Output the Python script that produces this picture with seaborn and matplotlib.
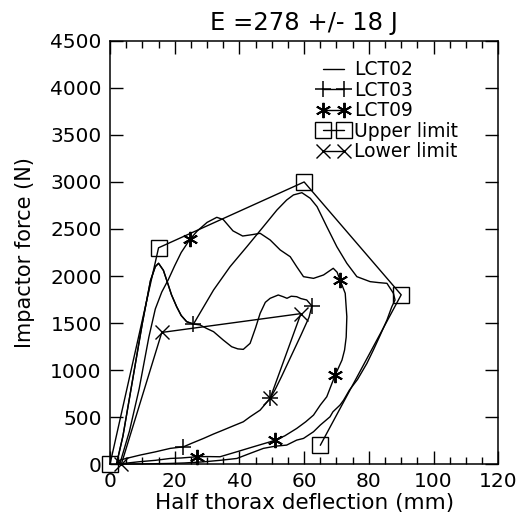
import numpy as np
import matplotlib
matplotlib.use("Agg")
import matplotlib.pyplot as plt
from matplotlib.lines import Line2D
from matplotlib.ticker import MultipleLocator
import seaborn as sns

# Half thorax deflection (mm) / impactor force (N)
lct02_x = [2, 4, 7, 10, 12.5, 14, 15, 16.5, 17.5, 19, 20.6, 22, 23.7, 25.8, 32, 37.1, 42.3,
           47.4, 51.6, 54.6, 56.7, 59.3, 61.9, 64, 67, 70.1, 73.2, 76.3, 80.4, 83, 85.6, 87.6,
           88.1, 87.1, 85.6, 83.5, 81.4, 79.4, 76.5, 74, 72.2, 71.1, 68.9, 68, 65, 62.9, 59.8,
           57.7, 54.6, 51, 47.4, 43, 39.2, 34, 28.9, 23, 18.6, 12, 6, 2]
lct02_y = [0, 300, 900, 1500, 1950, 2100, 2135, 2060, 1957, 1800, 1673, 1580, 1514, 1489, 1851,
           2099, 2312, 2525, 2702, 2808, 2862, 2886, 2826, 2737, 2525, 2312, 2135, 1993, 1940,
           1930, 1922, 1816, 1745, 1673, 1532, 1370, 1213, 1071, 900, 787, 680, 628, 556, 503,
           415, 344, 273, 255, 202, 190, 167, 110, 60, 40, 24, 12, 7, 3, 0, 0]

lct03_x = [2, 4, 7, 10, 12.5, 14, 15, 16.5, 17.5, 19, 20.6, 22, 23.7, 25.8, 27.8, 30, 32, 35,
           37.6, 39.5, 41.2, 43.3, 45, 46.4, 48, 49.5, 52, 53.5, 54.7, 56, 57.7, 59, 60.8, 62.4,
           61.5, 59, 56, 53, 51, 49.5, 46.4, 43.3, 41.2, 38, 35, 32, 28.9, 25.5, 22.7, 18.6, 14,
           9.3, 5, 3.1, 2]
lct03_y = [0, 300, 900, 1500, 1950, 2100, 2135, 2060, 1957, 1800, 1673, 1580, 1514, 1489, 1480,
           1440, 1408, 1319, 1248, 1225, 1220, 1284, 1450, 1603, 1720, 1763, 1798, 1780, 1763,
           1785, 1780, 1760, 1745, 1681, 1560, 1370, 1150, 930, 790, 700, 574, 503, 450, 405,
           362, 320, 273, 225, 184, 167, 130, 96, 60, 43, 0]

lct09_x = [3, 6, 9, 12, 14, 16, 18, 20, 22, 24.7, 27, 30, 33, 35, 38, 41, 44, 46.4, 49.5, 52.6,
           55.7, 57.7, 59.8, 62.9, 66, 69, 70.2, 71.1, 72.7, 73.2, 73, 72.5, 71.7, 69.6, 67, 65,
           62.9, 60.5, 57.7, 54, 51, 49.5, 44.3, 39.2, 34, 30, 26.8, 22, 18.6, 14, 9, 5, 3]
lct09_y = [0, 350, 800, 1350, 1650, 1830, 1960, 2110, 2250, 2390, 2480, 2570, 2624, 2600, 2480,
           2425, 2440, 2454, 2383, 2277, 2205, 2099, 1993, 1975, 2011, 2082, 2040, 1957, 1816,
           1567, 1350, 1213, 1106, 947, 716, 628, 521, 450, 379, 300, 255, 237, 184, 131, 78,
           80, 78, 65, 60, 40, 25, 10, 0]

upper_x = [0, 15, 60, 90, 65]
upper_y = [0, 2300, 3000, 1800, 200]
lower_x = [3.5, 16, 59, 49.5]
lower_y = [0, 1400, 1600, 700]

labels = ["LCT02", "LCT03", "LCT09", "Upper limit", "Lower limit"]

sns.set_style("ticks")
plt.rcParams["font.family"] = ["DejaVu Sans"]
plt.rcParams["text.color"] = "black"
plt.rcParams["axes.labelcolor"] = "black"
plt.rcParams["xtick.color"] = "black"
plt.rcParams["ytick.color"] = "black"

fig = plt.figure(figsize=(5.19, 5.31), dpi=100)
ax = fig.add_axes([0.212, 0.126, 0.748, 0.797])

lw = 1.0
common = dict(color="black", linewidth=lw, sort=False, estimator=None, ax=ax,
              markeredgecolor="black", clip_on=False)

sns.lineplot(x=lct02_x, y=lct02_y, **common)
sns.lineplot(x=lct03_x, y=lct03_y, marker="+", markersize=11, markeredgewidth=1.1,
             markevery=[13, 33, 39, 48], **common)
star = (6, 2, 0)
sns.lineplot(x=lct09_x, y=lct09_y, marker=star, markersize=11, markeredgewidth=1.4,
             markevery=[9, 27, 33, 40, 46], **common)
sns.lineplot(x=upper_x, y=upper_y, marker="s", markersize=11, markerfacecolor="none",
             markeredgewidth=1.0, **common)
sns.lineplot(x=lower_x, y=lower_y, marker="x", markersize=10, markeredgewidth=1.0, **common)

ax.set_xlim(0, 120)
ax.set_ylim(0, 4500)
ax.xaxis.set_major_locator(MultipleLocator(20))
ax.xaxis.set_minor_locator(MultipleLocator(5))
ax.yaxis.set_major_locator(MultipleLocator(500))
ax.tick_params(which="both", direction="in", top=True, right=True, color="black", width=1.0)
ax.tick_params(which="major", length=9.5, labelsize=14.5, pad=6)
ax.tick_params(which="minor", length=5)
for s in ax.spines.values():
    s.set_linewidth(1.1)
    s.set_color("black")

ax.set_title("E =278 +/- 18 J", fontsize=17.5, pad=8)
ax.set_xlabel("Half thorax deflection (mm)", fontsize=15.5, labelpad=1)
ax.set_ylabel("Impactor force (N)", fontsize=15, labelpad=11)

handles = [
    Line2D([], [], color="black", linewidth=lw),
    Line2D([], [], color="black", linewidth=lw, marker="+", markersize=11, markeredgewidth=1.1),
    Line2D([], [], color="black", linewidth=lw, marker=star, markersize=11, markeredgewidth=1.4),
    Line2D([], [], color="black", linewidth=lw, marker="s", markersize=11,
           markerfacecolor="none", markeredgewidth=1.0),
    Line2D([], [], color="black", linewidth=lw, marker="x", markersize=10, markeredgewidth=1.0),
]
ax.legend(handles, labels, loc="upper left", bbox_to_anchor=(0.50, 0.985), frameon=False,
          numpoints=2, fontsize=13.5, handlelength=1.7, handletextpad=0.25,
          labelspacing=0.08, borderpad=0.2)

fig.savefig("out.png", dpi=100)
